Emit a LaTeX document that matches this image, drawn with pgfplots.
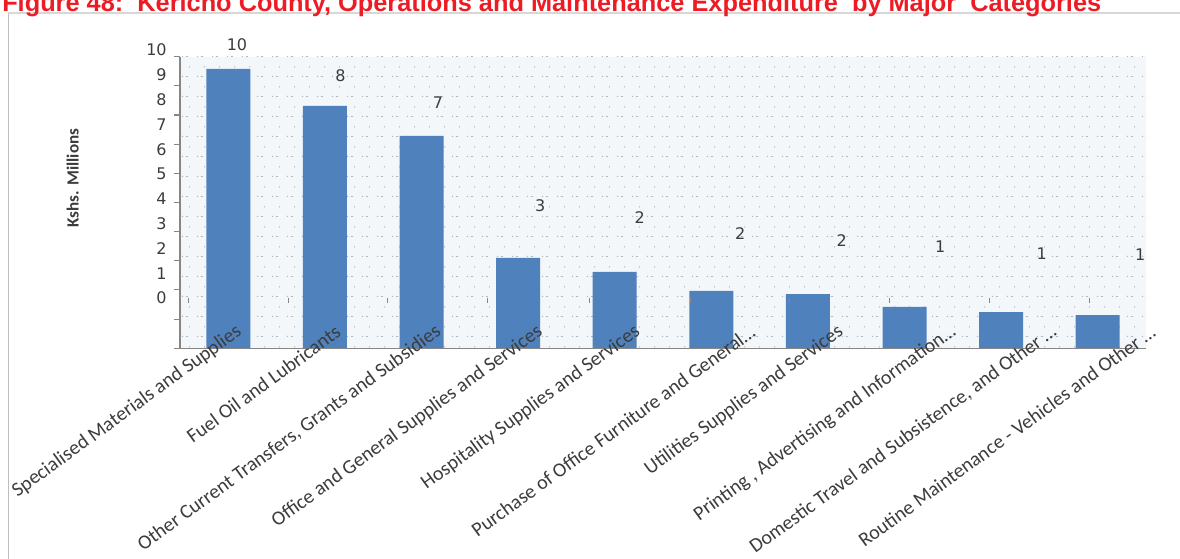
\documentclass[border=0pt]{standalone}
\usepackage{fontspec}
\setmainfont{Carlito}
\newfontfamily\dejavu{DejaVu Sans}
\newfontfamily\arial{Liberation Sans}
\usepackage{pgfplots}
\usepackage{pgfplotstable}
\pgfplotsset{compat=1.18}
\usetikzlibrary{patterns.meta}

\definecolor{barblue}{RGB}{79,129,189}
\definecolor{axisgray}{RGB}{134,134,134}
\definecolor{txtgray}{RGB}{60,60,60}
\definecolor{titlered}{RGB}{237,28,36}
\definecolor{bgfill}{RGB}{243,247,250}
\definecolor{dotgray}{RGB}{176,186,196}
\definecolor{framegray}{RGB}{190,190,190}
\definecolor{rulegray}{RGB}{215,215,215}

% light dotted plot background, like the spreadsheet's
\tikzdeclarepattern{
  name=chartdots,
  type=uncolored,
  bounding box={(0pt,0pt) and (11.25pt,15pt)},
  tile size={(11.25pt,15pt)},
  code={
    \fill (2pt,2pt) circle (0.6pt);
    \fill (7.6pt,9.5pt) circle (0.6pt);
    \fill (4.6pt,1.75pt) rectangle (6.4pt,2.25pt);
  }
}

% horizontal offsets (px) of the rotated category labels, as drawn in the original
\newcommand\labshift{{15,17,21,26,27,45,37,53,57,59}}

% bar heights (Kshs. Millions)
\pgfplotstableread{
x val
0 9.58
1 8.31
2 7.28
3 3.10
4 2.62
5 1.97
6 1.86
7 1.42
8 1.24
9 1.14
}\barsdata

% data labels, where the original chart put them
\pgfplotstableread{
x y lab
0.09 10.40 10
1.16 9.34 8
2.17 8.41 7
3.23 4.88 3
4.26 4.47 2
5.30 3.92 2
6.35 3.71 2
7.37 3.47 1
8.42 3.26 1
9.44 3.20 1
}\labdata

% stray little tick marks inside the plot area
\pgfplotstableread{
x y
-0.41 1.64
0.62 1.64
1.65 1.64
2.68 1.64
3.74 1.64
4.78 1.64
5.81 1.64
6.84 1.64
7.88 1.64
8.91 1.64
}\markdata

\begin{document}
\begin{tikzpicture}[x=0.75pt,y=0.75pt]
\useasboundingbox (0,0) rectangle (1180,-559);
\draw[framegray, line width=0.75pt] (8,-13) -- (8,-559);
\draw[rulegray, line width=1.5pt] (8,-13) -- (1180,-13);
\node[anchor=base west, inner sep=0pt, text=titlered,
  font=\arial\bfseries\fontsize{19}{22}\selectfont] at (2,-11.5)
  {Figure 48:\ \ Kericho County, Operations and Maintenance Expenditure\ \ by Major\ \ Categories};

\begin{axis}[
  at={(135pt,-261.2pt)}, anchor=south west,
  width=724.5pt, height=218.7pt, scale only axis,
  xmin=-0.5, xmax=9.5, ymin=0, ymax=10,
  clip=false, axis on top,
  axis x line*=bottom, axis y line*=left,
  axis line style={axisgray, line width=0.8pt},
  axis background/.style={fill=bgfill, postaction={pattern={chartdots}, pattern color=dotgray}},
  /pgf/number format/assume math mode=true,
  ytick={0,1,2,3,4,5,6,7,8,9,10},
  tick align=outside,
  major tick length=4.5pt,
  y tick style={axisgray, line width=0.8pt},
  yticklabel style={font=\dejavu\fontsize{12}{13}\selectfont, text=txtgray,
    xshift=-2pt, yshift={(37.7-3.27*\ticknum)*1pt}},
  xtick={0,1,2,3,4,5,6,7,8,9},
  x tick style={draw=none},
  xticklabels={
    Specialised Materials and Supplies,
    Fuel Oil and Lubricants,
    {Other Current Transfers, Grants and Subsidies},
    Office and General Supplies and Services,
    Hospitality Supplies and Services,
    Purchase of Office Furniture and General…,
    Utilities Supplies and Services,
    {Printing , Advertising and Information…},
    {Domestic Travel and Subsistence, and Other …},
    Routine Maintenance - Vehicles and Other …},
  xticklabel style={font=\fontsize{15}{16}\selectfont, text=txtgray,
    xshift={\labshift[\ticknum]*0.75pt},
    yshift=20.5pt, rotate=36, anchor=east},
  ylabel={Kshs. Millions},
  every axis y label/.style={at={(axis description cs:-0.111,0.584)},
    rotate=90, anchor=center, font=\bfseries\fontsize{12.8}{14}\selectfont, text=txtgray},
]
\addplot[ybar, bar width=33pt, fill=barblue, draw=none] table[x=x, y=val] {\barsdata};
\addplot[only marks, mark=|, mark size=2.2pt, mark options={axisgray, line width=0.5pt}]
  table[x=x, y=y] {\markdata};
\addplot[draw=none, mark=none, nodes near coords, point meta=explicit symbolic,
  every node near coord/.append style={anchor=center, inner sep=0pt, text=txtgray,
    font=\dejavu\fontsize{12}{13}\selectfont}]
  table[x=x, y=y, meta=lab] {\labdata};
\end{axis}
\end{tikzpicture}
\end{document}
